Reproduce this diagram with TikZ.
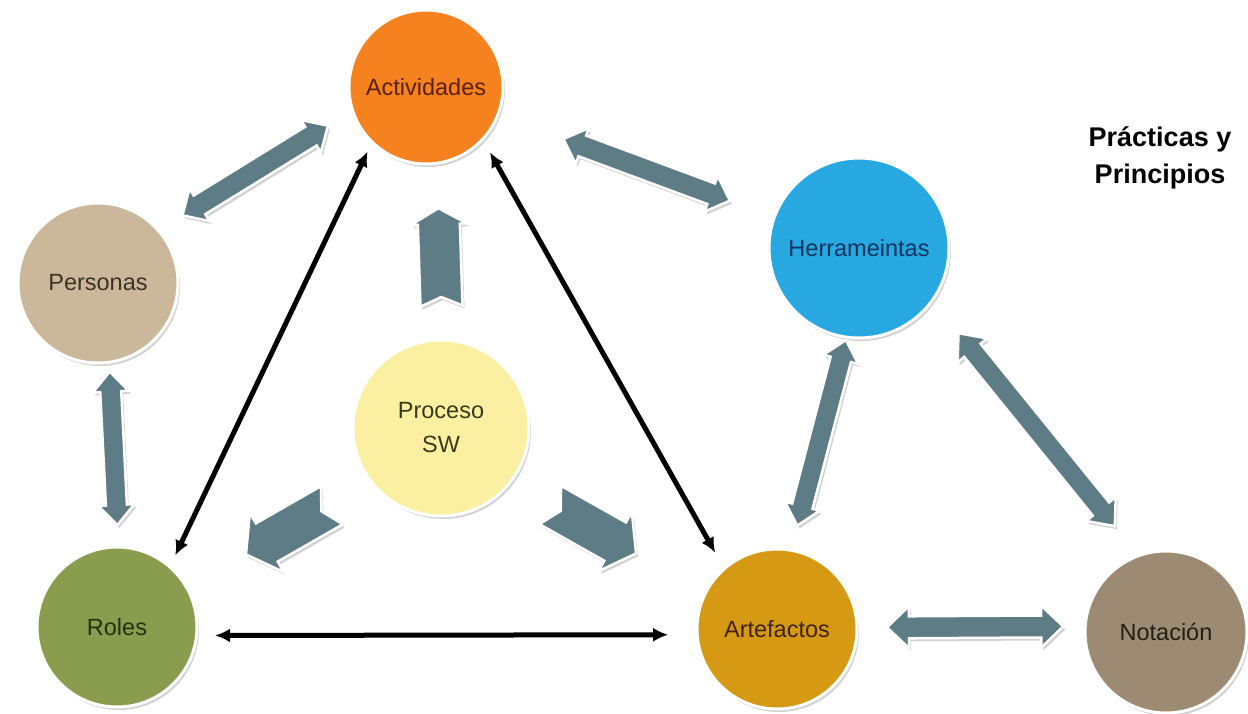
\documentclass[tikz,border=0pt]{standalone}
\usepackage{fontspec}
\setmainfont{Liberation Sans}
\usetikzlibrary{calc,shadows,arrows.meta}
\definecolor{cAct}{HTML}{F5821F}
\definecolor{cPer}{HTML}{CBB89A}
\definecolor{cHer}{HTML}{27A8E0}
\definecolor{cPro}{HTML}{FBF0A2}
\definecolor{cRol}{HTML}{8A9D4E}
\definecolor{cArt}{HTML}{D69913}
\definecolor{cNot}{HTML}{9D8A73}
\definecolor{tAct}{HTML}{5A200A}
\definecolor{tPer}{HTML}{3A3326}
\definecolor{tHer}{HTML}{0E3560}
\definecolor{tPro}{HTML}{3A3A1A}
\definecolor{tRol}{HTML}{22330F}
\definecolor{tArt}{HTML}{3F2305}
\definecolor{tNot}{HTML}{231E18}
\definecolor{slate}{RGB}{94,124,134}
\newcommand\DblArrow[7]{%
  \coordinate (tS) at ($(#1)!#3!(#2)$);
  \coordinate (tE) at ($(#2)!#4!(#1)$);
  \coordinate (tS1) at ($(tS)!#7!(tE)$);
  \coordinate (tE1) at ($(tE)!#7!(tS)$);
  \draw[blockarrow] (tS) -- ($(tS1)!#6!90:(tE)$) -- ($(tS1)!#5!90:(tE)$)
    -- ($(tE1)!#5!-90:(tS)$) -- ($(tE1)!#6!-90:(tS)$) -- (tE)
    -- ($(tE1)!#6!90:(tS)$) -- ($(tE1)!#5!90:(tS)$)
    -- ($(tS1)!#5!-90:(tE)$) -- ($(tS1)!#6!-90:(tE)$) -- cycle;
}
\newcommand\NotchArrow[8]{%
  \coordinate (tS) at ($(#1)!#3!(#2)$);
  \coordinate (tE) at ($(#2)!#4!(#1)$);
  \coordinate (tE1) at ($(tE)!#7!(tS)$);
  \coordinate (tN) at ($(tS)!#8!(tE)$);
  \draw[blockarrow] (tN) -- ($(tS)!#5!90:(tE)$) -- ($(tE1)!#5!-90:(tS)$)
    -- ($(tE1)!#6!-90:(tS)$) -- (tE) -- ($(tE1)!#6!90:(tS)$)
    -- ($(tE1)!#5!90:(tS)$) -- ($(tS)!#5!-90:(tE)$) -- cycle;
}
\begin{document}
\begin{tikzpicture}[x=1pt,y=-1pt,
  bub/.style={circle, draw=white, line width=3pt, inner sep=0pt, align=center,
    font=\fontsize{23.5}{34}\selectfont,
    drop shadow={shadow xshift=2pt, shadow yshift=-3pt, opacity=0.18, fill=black}},
  blockarrow/.style={fill=slate, draw=white, line width=2.5pt, line join=miter,
    drop shadow={shadow xshift=2pt, shadow yshift=-3pt, opacity=0.18, fill=black}},
  blk/.style={line width=5pt, {Latex[length=15pt,width=14pt]}-{Latex[length=15pt,width=14pt]}}]
\useasboundingbox[fill=white] (0,0) rectangle (1248,713);

\node[bub, fill=cAct, text=tAct, minimum size=154pt] (act) at (426,87) {Actividades};
\node[bub, fill=cPer, text=tPer, minimum size=160pt] (per) at (98,283) {Personas};
\node[bub, fill=cHer, text=tHer, minimum size=180pt] (her) at (859,248) {Herrameintas};
\node[bub, fill=cPro, text=tPro, minimum size=176pt] (pro) at (441,428) {Proceso\\SW};
\node[bub, fill=cRol, text=tRol, minimum size=160pt] (rol) at (117,627) {Roles};
\node[bub, fill=cArt, text=tArt, minimum size=160pt] (art) at (777,629) {Artefactos};
\node[bub, fill=cNot, text=tNot, minimum size=162pt] (not) at (1166,632) {Notación};

\node[font=\bfseries\fontsize{27}{37}\selectfont, align=center] (pp) at (1160,158) {Prácticas y\\Principios};

% black triangle arrows
\draw[blk, shorten <=11pt, shorten >=9pt] (rol.49) -- (act.226);
\draw[blk, shorten <=13.5pt, shorten >=17pt] (act.317) -- (art.131);
\draw[blk, shorten <=17pt, shorten >=27.5pt] (rol.-6) -- (art.184);

% grey double block arrows
\DblArrow{per.41}{act.198}{27pt}{27.5pt}{11pt}{19pt}{20pt}
\DblArrow{act.-21}{her.160}{68.5pt}{46pt}{11pt}{19pt}{20pt}
\DblArrow{per.-82}{rol.89}{8pt}{20.5pt}{10.5pt}{18pt}{20pt}
\DblArrow{her.-98.7}{art.80}{1.5pt}{24pt}{10.5pt}{18pt}{20pt}
\DblArrow{her.-36}{not.110}{40.5pt}{36.5pt}{10.5pt}{19pt}{22pt}
\DblArrow{art.1}{not.176}{28.5pt}{20.5pt}{11pt}{21pt}{22pt}

% notched arrows from Proceso SW
\NotchArrow{pro.89}{act.-82}{32.5pt}{43.5pt}{21pt}{28pt}{16pt}{9pt}
\NotchArrow{pro.218}{rol.29}{44.5pt}{66.5pt}{22pt}{34pt}{24pt}{12pt}
\NotchArrow{pro.-38}{art.153}{44.5pt}{78.5pt}{22pt}{34pt}{24pt}{12pt}
\end{tikzpicture}
\end{document}
